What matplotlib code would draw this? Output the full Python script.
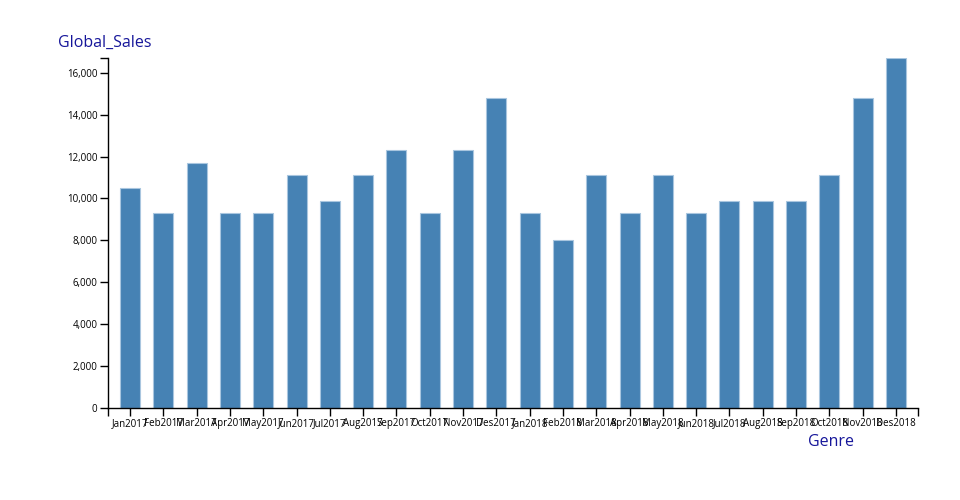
import matplotlib.pyplot as plt
from matplotlib.ticker import FuncFormatter

# Data
months = ["Jan2017", "Feb2017", "Mar2017", "Apr2017", "May2017", "Jun2017",
          "Jul2017", "Aug2017", "Sep2017", "Oct2017", "Nov2017", "Des2017",
          "Jan2018", "Feb2018", "Mar2018", "Apr2018", "May2018", "Jun2018",
          "Jul2018", "Aug2018", "Sep2018", "Oct2018", "Nov2018", "Des2018"]
global_sales = [10500, 9300, 11700, 9300, 9300, 11100,
                9900, 11100, 12300, 9300, 12300, 14800,
                9300, 8000, 11100, 9300, 11100, 9300,
                9900, 9900, 9900, 11100, 14800, 16700]

plt.rcParams['font.family'] = ['Open Sans', 'DejaVu Sans']

fig = plt.figure(figsize=(9.6, 5), dpi=100)
ax = fig.add_axes([108 / 960, 92 / 500, 810 / 960, 350 / 500])

x = list(range(len(months)))
ax.bar(x, global_sales, width=0.6, color="#4682b4",
       edgecolor="#a9c6df", linewidth=0.8)

ax.set_xlim(-0.66, len(months) - 0.34)
ax.set_ylim(0, max(global_sales))

ax.set_xticks(x)
ax.set_xticklabels(months)
ax.set_yticks(range(0, 16001, 2000))
ax.yaxis.set_major_formatter(FuncFormatter(lambda v, p: f"{int(v):,}"))

# outer ticks at the ends of the axes, like d3
ax.set_xticks([-0.66, len(months) - 0.34], minor=True)
ax.set_yticks([max(global_sales)], minor=True)
ax.tick_params(axis="both", which="both", length=6, width=1, color="black",
               labelsize=7, labelcolor="black", pad=1.5)

for s in ["top", "right"]:
    ax.spines[s].set_visible(False)
for s in ["left", "bottom"]:
    ax.spines[s].set_linewidth(1)
    ax.spines[s].set_color("black")

fig.text(58 / 960, 1 - 43 / 500, "Global_Sales", color="#16169a",
         fontsize=11.5, va="center", ha="left")
fig.text(831 / 960, 1 - 442 / 500, "Genre", color="#16169a",
         fontsize=11.5, va="center", ha="center")

fig.savefig("out.png", dpi=100)
